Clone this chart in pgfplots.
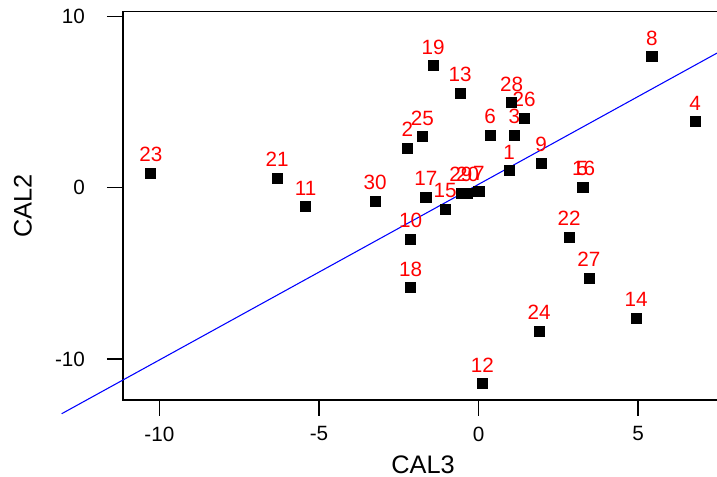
\documentclass[border=0pt]{standalone}
\usepackage{fontspec}
\setmainfont{Liberation Sans}
\usepackage{pgfplots}
\usepackage{pgfplotstable}
\pgfplotsset{compat=1.18}

% CAL3 (x), CAL2 (y), point label
\pgfplotstableread{
x y lab
0.96 0.99 1
-2.23 2.30 2
1.12 3.06 3
6.79 3.85 4
3.25 0.04 5
0.36 3.06 6
0.01 -0.23 7
5.43 7.65 8
1.96 1.42 9
-2.13 -3.01 10
-5.42 -1.11 11
0.12 -11.42 12
-0.58 5.51 13
4.94 -7.61 14
-1.05 -1.24 15
3.29 0.04 16
-1.65 -0.56 17
-2.13 -5.84 18
-1.42 7.12 19
-0.34 -0.33 20
-6.31 0.55 21
2.84 -2.88 22
-10.27 0.84 23
1.90 -8.37 24
-1.76 2.98 25
1.43 4.05 26
3.46 -5.27 27
1.04 4.96 28
-0.55 -0.33 29
-3.24 -0.78 30
}\pts

\begin{document}
\begin{tikzpicture}
\begin{axis}[
  scale only axis,
  width=450pt, height=291.2pt,
  xmin=-11.14, xmax=7.66,
  ymin=-12.39, ymax=10.27,
  axis line style={line width=1pt},
  tick style={black, line width=1pt},
  major tick length=12pt,
  tick align=outside,
  xtick pos=bottom, ytick pos=left,
  xtick={-10,-5,0,5}, xticklabels={-10,-5,0,5},
  ytick={-10,0,10}, yticklabels={-10,0,10},
  ticklabel style={font=\fontsize{15.5}{18}\selectfont},
  xticklabel style={yshift=-4.5pt},
  yticklabel style={xshift=-13pt},
  xlabel={CAL3}, ylabel={CAL2},
  every axis x label/.style={at={(axis description cs:0.5,-0.1674)}, anchor=center,
    font=\fontsize{19}{22}\selectfont},
  every axis y label/.style={at={(axis description cs:-0.1667,0.5)}, anchor=center,
    rotate=90, font=\fontsize{19}{22}\selectfont},
  clip=false,
]
\addplot[blue, line width=0.8pt] coordinates {(-13.06,-13.19) (7.476,7.86)};
\addplot[only marks, mark=square*, mark size=3.8pt,
  mark options={fill=black, draw=black, line width=0.5pt, rounded corners=2pt},
  nodes near coords, point meta=explicit symbolic,
  nodes near coords style={red, font=\fontsize{15.5}{18}\selectfont, anchor=center, yshift=13.9pt}]
  table[x=x, y=y, meta=lab] {\pts};
\end{axis}
\pgfresetboundingbox
\path[use as bounding box] (-92.25pt,-57.75pt) rectangle (445.5pt,300pt);
\end{tikzpicture}
\end{document}
